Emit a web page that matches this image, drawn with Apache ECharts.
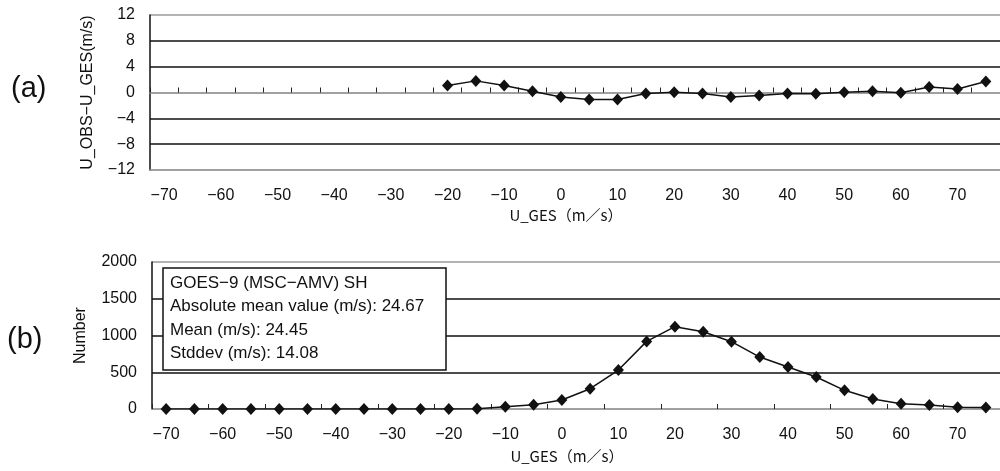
<!DOCTYPE html>
<html>
<head>
<meta charset="utf-8">
<script src="https://cdn.jsdelivr.net/npm/echarts@6/dist/echarts.min.js"></script>
<style>html,body{margin:0;padding:0;background:#fff}#c{width:1000px;height:471px}</style>
</head>
<body>
<div id="c"></div>
<script>
// U_GES categories (m/s)
const uCats = [-70,-65,-60,-55,-50,-45,-40,-35,-30,-25,-20,-15,-10,-5,0,5,10,15,20,25,30,35,40,45,50,55,60,65,70,75];
// (a) U_OBS - U_GES (m/s); no data below -20
const diffVals = [null,null,null,null,null,null,null,null,null,null,
  1.1,1.8,1.1,0.2,-0.7,-1.1,-1.1,-0.15,0.05,-0.15,-0.7,-0.45,-0.15,-0.2,0.05,0.2,-0.05,0.85,0.55,1.7];
// (b) Number of samples
const countVals = [0,0,0,0,0,0,0,0,0,0,0,5,31,59,123,276,530,920,1120,1052,916,707,571,435,254,136,72,54,25,22];
// y-axis ticks
const diffTicks = {min:-12, max:12, interval:4};
const countTicks = {min:0, max:2000, interval:500};
const statLines = [
  'GOES\u22129 (MSC\u2212AMV) SH',
  'Absolute mean value (m/s): 24.67',
  'Mean (m/s): 24.45',
  'Stddev (m/s): 14.08'
];

const FF = '"Liberation Sans", Arial, sans-serif';
const minus = v => String(v).replace('-', '\u2212');
const grey = '#9a9a9a';
const blk = '#111';

const chart = echarts.init(document.getElementById('c'));
const catLabel = {show:true, fontSize:16, color:'#111', fontFamily:FF, margin:18, formatter: minus};
const xName = 'U_GES\uFF08m\uFF0Fs\uFF09';
const xNameStyle = {fontSize:15, color:'#111', fontFamily:'"Noto Sans CJK JP", sans-serif', padding:[0,18,0,0]};

chart.setOption({
  animation:false,
  backgroundColor:'#fff',
  grid:[
    {left:150, top:15, width:850, height:155},
    {left:152, top:262, width:852, height:147}
  ],
  xAxis:[
    {gridIndex:0, type:'category', data:uCats, position:'bottom',
     axisLine:{onZero:false, lineStyle:{color:grey, width:1.5}},
     axisTick:{show:false}, axisLabel:catLabel, splitLine:{show:false},
     name:xName, nameLocation:'middle', nameGap:38, nameTextStyle:xNameStyle},
    {gridIndex:0, type:'category', data:uCats, position:'bottom',
     axisLine:{onZero:true, lineStyle:{color:grey, width:1.5}},
     axisTick:{show:true, inside:true, length:5, lineStyle:{color:'#222', width:1}},
     axisLabel:{show:false}, splitLine:{show:false}},
    {gridIndex:1, type:'category', data:uCats, position:'bottom',
     axisLine:{onZero:false, lineStyle:{color:grey, width:1.5}},
     axisTick:{show:true, inside:true, length:5, lineStyle:{color:'#222', width:1}},
     axisLabel:catLabel, splitLine:{show:false},
     name:xName, nameLocation:'middle', nameGap:40, nameTextStyle:xNameStyle}
  ],
  yAxis:[
    {gridIndex:0, type:'value', min:diffTicks.min, max:diffTicks.max, interval:diffTicks.interval,
     axisLine:{show:true, lineStyle:{color:blk, width:1.5}}, axisTick:{show:false},
     axisLabel:{fontSize:16, color:'#111', fontFamily:FF, margin:15, formatter:minus},
     splitLine:{show:true, lineStyle:{color:[grey,blk,blk,grey,blk,blk,grey], width:1.5}},
     name:'U_OBS\u2212U_GES(m/s)', nameLocation:'middle', nameRotate:90, nameGap:54,
     nameTextStyle:{fontSize:16, color:'#111', fontFamily:FF}},
    {gridIndex:1, type:'value', min:countTicks.min, max:countTicks.max, interval:countTicks.interval,
     axisLine:{show:true, lineStyle:{color:blk, width:1.5}}, axisTick:{show:false},
     axisLabel:{fontSize:16, color:'#111', fontFamily:FF, margin:15, formatter: v => String(v)},
     splitLine:{show:true, lineStyle:{color:[grey,blk,blk,blk,grey], width:1.5}},
     name:'Number', nameLocation:'middle', nameRotate:90, nameGap:63,
     nameTextStyle:{fontSize:16, color:'#111', fontFamily:FF}}
  ],
  series:[
    {type:'line', xAxisIndex:0, yAxisIndex:0, data:diffVals, symbol:'diamond', symbolSize:[11,12],
     itemStyle:{color:'#111'}, lineStyle:{color:'#111', width:1.5}, connectNulls:false},
    {type:'line', xAxisIndex:2, yAxisIndex:1, data:countVals, symbol:'diamond', symbolSize:[11,12],
     itemStyle:{color:'#111'}, lineStyle:{color:'#111', width:1.5}, z:2}
  ],
  graphic:[
    {type:'text', left:11, top:74, style:{text:'(a)', fontSize:29, fill:'#111', fontFamily:FF}},
    {type:'text', left:7, top:325, style:{text:'(b)', fontSize:29, fill:'#111', fontFamily:FF}},
    {type:'rect', shape:{x:163, y:268, width:283, height:102}, z:100,
     style:{fill:'#fff', stroke:'#111', lineWidth:1.5}},
    ...statLines.map((t,i)=>({type:'text', x:170, y:283 + i*23.5, z:101,
      style:{text:t, fontSize:17, fill:'#111', fontFamily:FF, textVerticalAlign:'middle', verticalAlign:'middle'}}))
  ]
});
</script>
</body>
</html>
